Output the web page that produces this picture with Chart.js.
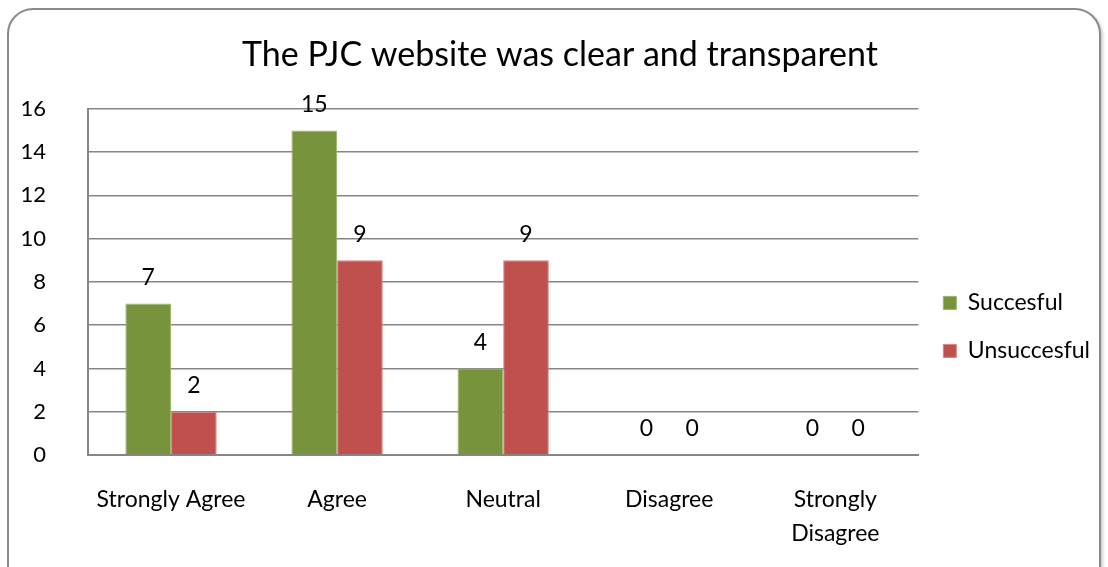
<!DOCTYPE html>
<html>
<head>
<meta charset="utf-8">
<script src="https://cdn.jsdelivr.net/npm/chart.js@4"></script>
<style>
    html, body { margin: 0; padding: 0; background: #fff; }
    #wrap { position: relative; width: 1108px; height: 567px; overflow: hidden; }
    #frame {
        position: absolute; left: 7px; top: 8px; width: 1090px; height: 620px;
        border: 2px solid #8a8a8a; border-radius: 26px;
        box-shadow: 2px 2px 3px rgba(0, 0, 0, 0.2);
        pointer-events: none;
    }
    canvas { position: absolute; left: 0; top: 0; }
</style>
</head>
<body>
<div id="wrap">
    <div id="frame"></div>
    <canvas id="grafico" width="1108" height="567"></canvas>
</div>
<script>
const categorias = ["Strongly Agree", "Agree", "Neutral", "Disagree", ["Strongly", "Disagree"]];
const succesful = [7, 15, 4, 0, 0];
const unsuccesful = [2, 9, 9, 0, 0];
const ticksY = [0, 2, 4, 6, 8, 10, 12, 14, 16];

const FONTE = "Lato, 'Open Sans', sans-serif";

// rotulos de valor acima das barras
const rotulosPlugin = {
    id: "rotulos",
    afterDatasetsDraw(chart) {
        const ctx = chart.ctx;
        ctx.save();
        ctx.font = "23px " + FONTE;
        ctx.fillStyle = "#000";
        ctx.textAlign = "center";
        ctx.textBaseline = "middle";
        chart.data.datasets.forEach((ds, i) => {
            const meta = chart.getDatasetMeta(i);
            meta.data.forEach((bar, j) => {
                ctx.fillText(String(ds.data[j]), bar.x, bar.y - 26);
            });
        });
        ctx.restore();
    },
};

function renderGrafico() {
    const ctx = document.getElementById("grafico");

    new Chart(ctx, {
        type: "bar",
        data: {
            labels: categorias,
            datasets: [
                {
                    label: "Succesful",
                    data: succesful,
                    backgroundColor: "#77933C",
                    borderColor: "#9bb568",
                    borderWidth: 1,
                },
                {
                    label: "Unsuccesful",
                    data: unsuccesful,
                    backgroundColor: "#C0504D",
                    borderColor: "#d88583",
                    borderWidth: 1,
                },
            ],
        },
        options: {
            responsive: false,
            animation: false,
            layout: {
                padding: { left: 20, right: 8, top: 0, bottom: 0 },
            },
            datasets: {
                bar: {
                    categoryPercentage: 0.55,
                    barPercentage: 1.0,
                },
            },
            plugins: {
                title: {
                    display: true,
                    text: "The PJC website was clear and transparent",
                    color: "#000",
                    font: { family: FONTE, size: 34, weight: "normal", lineHeight: 1.2 },
                    padding: { top: 35, bottom: 33 },
                },
                legend: {
                    position: "right",
                    align: "start",
                    title: {
                        display: true,
                        text: "",
                        padding: { top: 252, bottom: 0 },
                    },
                    labels: {
                        color: "#000",
                        font: { family: FONTE, size: 23 },
                        boxWidth: 13,
                        boxHeight: 13,
                        padding: 25,
                    },
                },
                tooltip: { enabled: false },
            },
            scales: {
                x: {
                    grid: { display: false },
                    border: { color: "#868686", width: 2 },
                    ticks: {
                        color: "#000",
                        font: { family: FONTE, size: 23, lineHeight: 1.48 },
                        padding: 20,
                        maxRotation: 0,
                    },
                    afterFit(scale) {
                        scale.height = 112;
                    },
                },
                y: {
                    min: 0,
                    max: 16,
                    afterBuildTicks(scale) {
                        scale.ticks = ticksY.map((v) => ({ value: v }));
                    },
                    grid: { color: "#868686", lineWidth: 1.5, drawTicks: false },
                    border: { color: "#868686", width: 2 },
                    ticks: {
                        color: "#000",
                        font: { family: FONTE, size: 22 },
                        padding: 42,
                    },
                    afterFit(scale) {
                        scale.width = 68;
                    },
                },
            },
        },
        plugins: [rotulosPlugin],
    });
}

renderGrafico();
</script>
</body>
</html>
